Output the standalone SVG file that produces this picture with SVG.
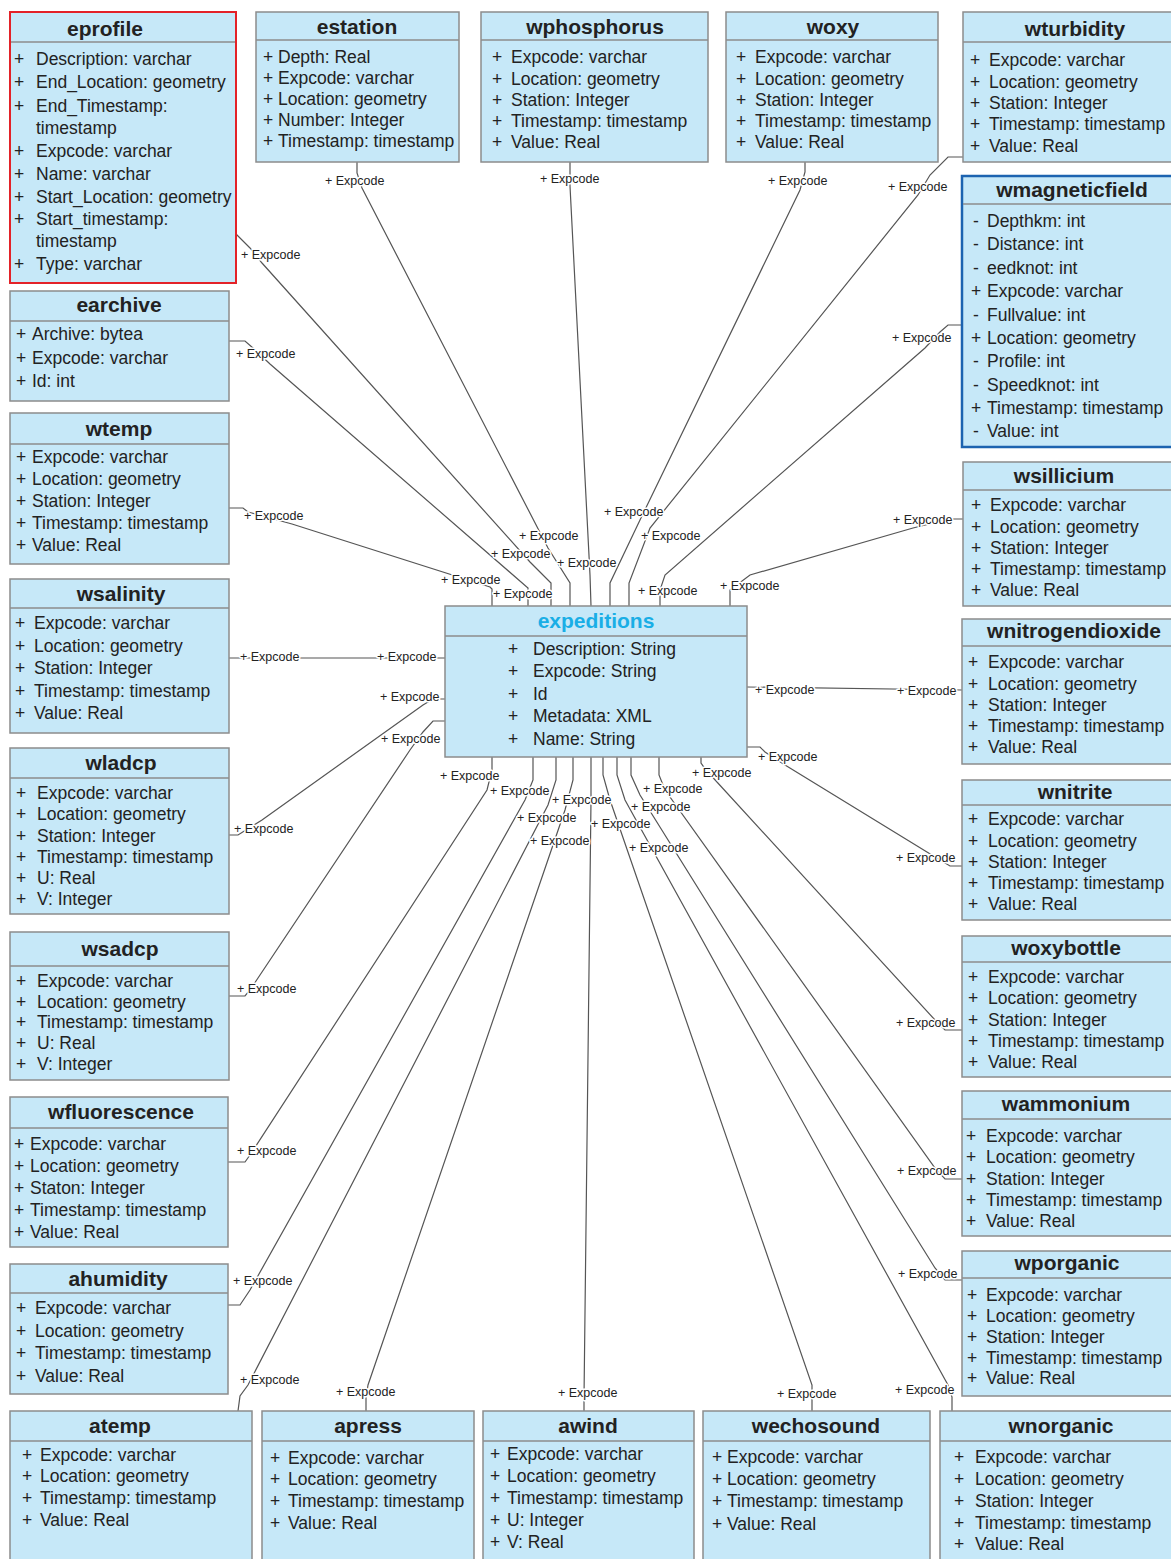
<svg xmlns="http://www.w3.org/2000/svg" width="1171" height="1559" viewBox="0 0 1171 1559">
<style>
.bg{fill:#fff}
.box{fill:#c6e8f8;stroke:#8c8c8c;stroke-width:1.5}
.div{stroke:#8c8c8c;stroke-width:1.5}
.t{font-family:"Liberation Sans",Arial,sans-serif;font-size:21px;font-weight:bold;fill:#222;text-anchor:middle}
.a{font-family:"Liberation Sans",Arial,sans-serif;font-size:17.5px;fill:#222}
.m{font-family:"Liberation Sans",Arial,sans-serif;font-size:17.5px;fill:#222;text-anchor:middle}
.c{fill:none;stroke:#555;stroke-width:1.2}
.l{font-family:"Liberation Sans",Arial,sans-serif;font-size:12.5px;fill:#222;paint-order:stroke;stroke:#fff;stroke-width:3px;stroke-linejoin:round}
</style>
<rect class="bg" x="0" y="0" width="1171" height="1559"/>
<g id="connectors">
<polyline class="c" points="236,234 250,248 262,263 530,562 551,583 551,606"/>
<polyline class="c" points="229,341 245,341 253,348 270,364 528,588 528,606"/>
<polyline class="c" points="229,508 243,508 248,512 292,524 490,587 492,589 492,606"/>
<polyline class="c" points="357,162 357,173 362,188 548,548 570,583 570,606"/>
<polyline class="c" points="570,162 570,172 570,186 590,575 591,606"/>
<polyline class="c" points="805,162 805,172 800,190 640,520 610,583 610,606"/>
<polyline class="c" points="963,157 948,157 930,175 918,195 650,528 629,583 629,606"/>
<polyline class="c" points="962,325 948,325 940,332 925,348 665,575 660,590 660,606"/>
<polyline class="c" points="963,519 950,519 913,528 750,575 730,590 730,606"/>
<polyline class="c" points="229,658 445,658"/>
<polyline class="c" points="229,835 238,835 262,820 423,705 433,699 445,699"/>
<polyline class="c" points="229,996 245,996 250,990 410,750 423,732 433,721 445,721"/>
<polyline class="c" points="747,687 962,690"/>
<polyline class="c" points="747,747 760,747 765,752 785,765 940,860 950,866 962,866"/>
<polyline class="c" points="492,757 492,770 487,790 250,1155 245,1162 228,1162"/>
<polyline class="c" points="533,757 533,780 525,800 250,1290 240,1305 228,1305"/>
<polyline class="c" points="556,757 556,780 548,805 248,1385 240,1396 238,1411"/>
<polyline class="c" points="573,757 573,780 565,810 368,1385 366,1398 366,1411"/>
<polyline class="c" points="591,757 591,800 584,1398 584,1411"/>
<polyline class="c" points="603,757 603,775 610,800 812,1385 812,1411"/>
<polyline class="c" points="617,757 617,775 625,800 948,1385 952,1397 952,1411"/>
<polyline class="c" points="631,757 631,775 640,795 935,1268 945,1280 962,1280"/>
<polyline class="c" points="659,757 659,775 665,790 935,1168 945,1179 962,1179"/>
<polyline class="c" points="701,757 701,763 706,770 935,1020 945,1030 962,1030"/>
<text class="l" x="241" y="259">+ Expcode</text><text class="l" x="491" y="558">+ Expcode</text>
<text class="l" x="236" y="358">+ Expcode</text><text class="l" x="493" y="598">+ Expcode</text>
<text class="l" x="244" y="520">+ Expcode</text><text class="l" x="441" y="584">+ Expcode</text>
<text class="l" x="325" y="185">+ Expcode</text><text class="l" x="519" y="540">+ Expcode</text>
<text class="l" x="540" y="183">+ Expcode</text><text class="l" x="557" y="567">+ Expcode</text>
<text class="l" x="768" y="185">+ Expcode</text><text class="l" x="604" y="516">+ Expcode</text>
<text class="l" x="888" y="191">+ Expcode</text><text class="l" x="641" y="540">+ Expcode</text>
<text class="l" x="892" y="342">+ Expcode</text><text class="l" x="638" y="595">+ Expcode</text>
<text class="l" x="893" y="524">+ Expcode</text><text class="l" x="720" y="590">+ Expcode</text>
<text class="l" x="240" y="661">+ Expcode</text><text class="l" x="377" y="661">+ Expcode</text>
<text class="l" x="234" y="833">+ Expcode</text><text class="l" x="380" y="701">+ Expcode</text>
<text class="l" x="237" y="993">+ Expcode</text><text class="l" x="381" y="743">+ Expcode</text>
<text class="l" x="755" y="694">+ Expcode</text><text class="l" x="897" y="695">+ Expcode</text>
<text class="l" x="758" y="761">+ Expcode</text><text class="l" x="896" y="862">+ Expcode</text>
<text class="l" x="440" y="780">+ Expcode</text><text class="l" x="237" y="1155">+ Expcode</text>
<text class="l" x="490" y="795">+ Expcode</text><text class="l" x="233" y="1285">+ Expcode</text>
<text class="l" x="517" y="822">+ Expcode</text><text class="l" x="240" y="1384">+ Expcode</text>
<text class="l" x="530" y="845">+ Expcode</text><text class="l" x="336" y="1396">+ Expcode</text>
<text class="l" x="552" y="804">+ Expcode</text><text class="l" x="558" y="1397">+ Expcode</text>
<text class="l" x="591" y="828">+ Expcode</text><text class="l" x="777" y="1398">+ Expcode</text>
<text class="l" x="629" y="852">+ Expcode</text><text class="l" x="895" y="1394">+ Expcode</text>
<text class="l" x="631" y="811">+ Expcode</text><text class="l" x="898" y="1278">+ Expcode</text>
<text class="l" x="643" y="793">+ Expcode</text><text class="l" x="897" y="1175">+ Expcode</text>
<text class="l" x="692" y="777">+ Expcode</text><text class="l" x="896" y="1027">+ Expcode</text>
</g>

<g id="eprofile">
<rect x="10" y="12" width="226" height="271" style="fill:#c6e8f8;stroke:#e32228;stroke-width:2"/>
<line class="div" x1="11" y1="42" x2="235" y2="42"/>
<text class="t" x="105" y="36">eprofile</text>
<text class="m" x="19" y="65">+</text><text class="a" x="36" y="65">Description: varchar</text>
<text class="m" x="19" y="88">+</text><text class="a" x="36" y="88">End_Location: geometry</text>
<text class="m" x="19" y="112">+</text><text class="a" x="36" y="112">End_Timestamp:</text>
<text class="a" x="36" y="134">timestamp</text>
<text class="m" x="19" y="157">+</text><text class="a" x="36" y="157">Expcode: varchar</text>
<text class="m" x="19" y="180">+</text><text class="a" x="36" y="180">Name: varchar</text>
<text class="m" x="19" y="203">+</text><text class="a" x="36" y="203">Start_Location: geometry</text>
<text class="m" x="19" y="225">+</text><text class="a" x="36" y="225">Start_timestamp:</text>
<text class="a" x="36" y="247">timestamp</text>
<text class="m" x="19" y="270">+</text><text class="a" x="36" y="270">Type: varchar</text>
</g>

<g id="estation">
<rect class="box" x="256" y="12" width="203" height="150"/>
<line class="div" x1="256" y1="40" x2="459" y2="40"/>
<text class="t" x="357" y="34">estation</text>
<text class="m" x="268" y="63">+</text><text class="a" x="278" y="63">Depth: Real</text>
<text class="m" x="268" y="84">+</text><text class="a" x="278" y="84">Expcode: varchar</text>
<text class="m" x="268" y="105">+</text><text class="a" x="278" y="105">Location: geometry</text>
<text class="m" x="268" y="126">+</text><text class="a" x="278" y="126">Number: Integer</text>
<text class="m" x="268" y="147">+</text><text class="a" x="278" y="147">Timestamp: timestamp</text>
</g>

<g id="wphosphorus">
<rect class="box" x="481" y="12" width="227" height="150"/>
<line class="div" x1="481" y1="40" x2="708" y2="40"/>
<text class="t" x="595" y="34">wphosphorus</text>
<text class="m" x="497" y="63">+</text><text class="a" x="511" y="63">Expcode: varchar</text>
<text class="m" x="497" y="85">+</text><text class="a" x="511" y="85">Location: geometry</text>
<text class="m" x="497" y="106">+</text><text class="a" x="511" y="106">Station: Integer</text>
<text class="m" x="497" y="127">+</text><text class="a" x="511" y="127">Timestamp: timestamp</text>
<text class="m" x="497" y="148">+</text><text class="a" x="511" y="148">Value: Real</text>
</g>

<g id="woxy">
<rect class="box" x="726" y="12" width="212" height="150"/>
<line class="div" x1="726" y1="40" x2="938" y2="40"/>
<text class="t" x="833" y="34">woxy</text>
<text class="m" x="741" y="63">+</text><text class="a" x="755" y="63">Expcode: varchar</text>
<text class="m" x="741" y="85">+</text><text class="a" x="755" y="85">Location: geometry</text>
<text class="m" x="741" y="106">+</text><text class="a" x="755" y="106">Station: Integer</text>
<text class="m" x="741" y="127">+</text><text class="a" x="755" y="127">Timestamp: timestamp</text>
<text class="m" x="741" y="148">+</text><text class="a" x="755" y="148">Value: Real</text>
</g>

<g id="wturbidity">
<rect class="box" x="963" y="12" width="215" height="150"/>
<line class="div" x1="963" y1="42" x2="1178" y2="42"/>
<text class="t" x="1075" y="36">wturbidity</text>
<text class="m" x="975" y="66">+</text><text class="a" x="989" y="66">Expcode: varchar</text>
<text class="m" x="975" y="88">+</text><text class="a" x="989" y="88">Location: geometry</text>
<text class="m" x="975" y="109">+</text><text class="a" x="989" y="109">Station: Integer</text>
<text class="m" x="975" y="130">+</text><text class="a" x="989" y="130">Timestamp: timestamp</text>
<text class="m" x="975" y="152">+</text><text class="a" x="989" y="152">Value: Real</text>
</g>

<g id="wmagneticfield">
<rect x="962" y="176" width="215" height="271" style="fill:#c6e8f8;stroke:#1c63b0;stroke-width:2.5"/>
<line class="div" x1="963" y1="204" x2="1177" y2="204"/>
<text class="t" x="1072" y="197">wmagneticfield</text>
<text class="m" x="976" y="227">-</text><text class="a" x="987" y="227">Depthkm: int</text>
<text class="m" x="976" y="250">-</text><text class="a" x="987" y="250">Distance: int</text>
<text class="m" x="976" y="274">-</text><text class="a" x="987" y="274">eedknot: int</text>
<text class="m" x="976" y="297">+</text><text class="a" x="987" y="297">Expcode: varchar</text>
<text class="m" x="976" y="321">-</text><text class="a" x="987" y="321">Fullvalue: int</text>
<text class="m" x="976" y="344">+</text><text class="a" x="987" y="344">Location: geometry</text>
<text class="m" x="976" y="367">-</text><text class="a" x="987" y="367">Profile: int</text>
<text class="m" x="976" y="391">-</text><text class="a" x="987" y="391">Speedknot: int</text>
<text class="m" x="976" y="414">+</text><text class="a" x="987" y="414">Timestamp: timestamp</text>
<text class="m" x="976" y="437">-</text><text class="a" x="987" y="437">Value: int</text>
</g>

<g id="earchive">
<rect class="box" x="10" y="291" width="219" height="110"/>
<line class="div" x1="10" y1="321" x2="229" y2="321"/>
<text class="t" x="119" y="312">earchive</text>
<text class="m" x="21" y="340">+</text><text class="a" x="32" y="340">Archive: bytea</text>
<text class="m" x="21" y="364">+</text><text class="a" x="32" y="364">Expcode: varchar</text>
<text class="m" x="21" y="387">+</text><text class="a" x="32" y="387">Id: int</text>
</g>

<g id="wtemp">
<rect class="box" x="10" y="413" width="219" height="151"/>
<line class="div" x1="10" y1="444" x2="229" y2="444"/>
<text class="t" x="119" y="436">wtemp</text>
<text class="m" x="21" y="463">+</text><text class="a" x="32" y="463">Expcode: varchar</text>
<text class="m" x="21" y="485">+</text><text class="a" x="32" y="485">Location: geometry</text>
<text class="m" x="21" y="507">+</text><text class="a" x="32" y="507">Station: Integer</text>
<text class="m" x="21" y="529">+</text><text class="a" x="32" y="529">Timestamp: timestamp</text>
<text class="m" x="21" y="551">+</text><text class="a" x="32" y="551">Value: Real</text>
</g>

<g id="wsalinity">
<rect class="box" x="10" y="579" width="219" height="154"/>
<line class="div" x1="10" y1="608" x2="229" y2="608"/>
<text class="t" x="121" y="601">wsalinity</text>
<text class="m" x="20" y="629">+</text><text class="a" x="34" y="629">Expcode: varchar</text>
<text class="m" x="20" y="652">+</text><text class="a" x="34" y="652">Location: geometry</text>
<text class="m" x="20" y="674">+</text><text class="a" x="34" y="674">Station: Integer</text>
<text class="m" x="20" y="697">+</text><text class="a" x="34" y="697">Timestamp: timestamp</text>
<text class="m" x="20" y="719">+</text><text class="a" x="34" y="719">Value: Real</text>
</g>

<g id="wladcp">
<rect class="box" x="10" y="748" width="219" height="166"/>
<line class="div" x1="10" y1="778" x2="229" y2="778"/>
<text class="t" x="121" y="770">wladcp</text>
<text class="m" x="21" y="799">+</text><text class="a" x="37" y="799">Expcode: varchar</text>
<text class="m" x="21" y="820">+</text><text class="a" x="37" y="820">Location: geometry</text>
<text class="m" x="21" y="842">+</text><text class="a" x="37" y="842">Station: Integer</text>
<text class="m" x="21" y="863">+</text><text class="a" x="37" y="863">Timestamp: timestamp</text>
<text class="m" x="21" y="884">+</text><text class="a" x="37" y="884">U: Real</text>
<text class="m" x="21" y="905">+</text><text class="a" x="37" y="905">V: Integer</text>
</g>

<g id="wsadcp">
<rect class="box" x="10" y="932" width="219" height="148"/>
<line class="div" x1="10" y1="966" x2="229" y2="966"/>
<text class="t" x="120" y="956">wsadcp</text>
<text class="m" x="21" y="987">+</text><text class="a" x="37" y="987">Expcode: varchar</text>
<text class="m" x="21" y="1008">+</text><text class="a" x="37" y="1008">Location: geometry</text>
<text class="m" x="21" y="1028">+</text><text class="a" x="37" y="1028">Timestamp: timestamp</text>
<text class="m" x="21" y="1049">+</text><text class="a" x="37" y="1049">U: Real</text>
<text class="m" x="21" y="1070">+</text><text class="a" x="37" y="1070">V: Integer</text>
</g>

<g id="wfluorescence">
<rect class="box" x="10" y="1097" width="218" height="150"/>
<line class="div" x1="10" y1="1128" x2="228" y2="1128"/>
<text class="t" x="121" y="1119">wfluorescence</text>
<text class="m" x="19" y="1150">+</text><text class="a" x="30" y="1150">Expcode: varchar</text>
<text class="m" x="19" y="1172">+</text><text class="a" x="30" y="1172">Location: geometry</text>
<text class="m" x="19" y="1194">+</text><text class="a" x="30" y="1194">Staton: Integer</text>
<text class="m" x="19" y="1216">+</text><text class="a" x="30" y="1216">Timestamp: timestamp</text>
<text class="m" x="19" y="1238">+</text><text class="a" x="30" y="1238">Value: Real</text>
</g>

<g id="ahumidity">
<rect class="box" x="10" y="1264" width="218" height="130"/>
<line class="div" x1="10" y1="1293" x2="228" y2="1293"/>
<text class="t" x="118" y="1286">ahumidity</text>
<text class="m" x="21" y="1314">+</text><text class="a" x="35" y="1314">Expcode: varchar</text>
<text class="m" x="21" y="1337">+</text><text class="a" x="35" y="1337">Location: geometry</text>
<text class="m" x="21" y="1359">+</text><text class="a" x="35" y="1359">Timestamp: timestamp</text>
<text class="m" x="21" y="1382">+</text><text class="a" x="35" y="1382">Value: Real</text>
</g>

<g id="atemp">
<rect class="box" x="10" y="1411" width="242" height="152"/>
<line class="div" x1="10" y1="1441" x2="252" y2="1441"/>
<text class="t" x="120" y="1433">atemp</text>
<text class="m" x="27" y="1461">+</text><text class="a" x="40" y="1461">Expcode: varchar</text>
<text class="m" x="27" y="1482">+</text><text class="a" x="40" y="1482">Location: geometry</text>
<text class="m" x="27" y="1504">+</text><text class="a" x="40" y="1504">Timestamp: timestamp</text>
<text class="m" x="27" y="1526">+</text><text class="a" x="40" y="1526">Value: Real</text>
</g>

<g id="apress">
<rect class="box" x="262" y="1411" width="212" height="152"/>
<line class="div" x1="262" y1="1441" x2="474" y2="1441"/>
<text class="t" x="368" y="1433">apress</text>
<text class="m" x="275" y="1464">+</text><text class="a" x="288" y="1464">Expcode: varchar</text>
<text class="m" x="275" y="1485">+</text><text class="a" x="288" y="1485">Location: geometry</text>
<text class="m" x="275" y="1507">+</text><text class="a" x="288" y="1507">Timestamp: timestamp</text>
<text class="m" x="275" y="1529">+</text><text class="a" x="288" y="1529">Value: Real</text>
</g>

<g id="awind">
<rect class="box" x="483" y="1411" width="211" height="152"/>
<line class="div" x1="483" y1="1441" x2="694" y2="1441"/>
<text class="t" x="588" y="1433">awind</text>
<text class="m" x="495" y="1460">+</text><text class="a" x="507" y="1460">Expcode: varchar</text>
<text class="m" x="495" y="1482">+</text><text class="a" x="507" y="1482">Location: geometry</text>
<text class="m" x="495" y="1504">+</text><text class="a" x="507" y="1504">Timestamp: timestamp</text>
<text class="m" x="495" y="1526">+</text><text class="a" x="507" y="1526">U: Integer</text>
<text class="m" x="495" y="1548">+</text><text class="a" x="507" y="1548">V: Real</text>
</g>

<g id="wechosound">
<rect class="box" x="703" y="1411" width="227" height="152"/>
<line class="div" x1="703" y1="1441" x2="930" y2="1441"/>
<text class="t" x="816" y="1433">wechosound</text>
<text class="m" x="717" y="1463">+</text><text class="a" x="727" y="1463">Expcode: varchar</text>
<text class="m" x="717" y="1485">+</text><text class="a" x="727" y="1485">Location: geometry</text>
<text class="m" x="717" y="1507">+</text><text class="a" x="727" y="1507">Timestamp: timestamp</text>
<text class="m" x="717" y="1530">+</text><text class="a" x="727" y="1530">Value: Real</text>
</g>

<g id="wnorganic">
<rect class="box" x="940" y="1411" width="240" height="152"/>
<line class="div" x1="940" y1="1441" x2="1180" y2="1441"/>
<text class="t" x="1061" y="1433">wnorganic</text>
<text class="m" x="959" y="1463">+</text><text class="a" x="975" y="1463">Expcode: varchar</text>
<text class="m" x="959" y="1485">+</text><text class="a" x="975" y="1485">Location: geometry</text>
<text class="m" x="959" y="1507">+</text><text class="a" x="975" y="1507">Station: Integer</text>
<text class="m" x="959" y="1529">+</text><text class="a" x="975" y="1529">Timestamp: timestamp</text>
<text class="m" x="959" y="1550">+</text><text class="a" x="975" y="1550">Value: Real</text>
</g>

<g id="wsillicium">
<rect class="box" x="963" y="462" width="215" height="144"/>
<line class="div" x1="963" y1="490" x2="1178" y2="490"/>
<text class="t" x="1064" y="483">wsillicium</text>
<text class="m" x="976" y="511">+</text><text class="a" x="990" y="511">Expcode: varchar</text>
<text class="m" x="976" y="533">+</text><text class="a" x="990" y="533">Location: geometry</text>
<text class="m" x="976" y="554">+</text><text class="a" x="990" y="554">Station: Integer</text>
<text class="m" x="976" y="575">+</text><text class="a" x="990" y="575">Timestamp: timestamp</text>
<text class="m" x="976" y="596">+</text><text class="a" x="990" y="596">Value: Real</text>
</g>

<g id="wnitrogendioxide">
<rect class="box" x="962" y="619" width="215" height="145"/>
<line class="div" x1="962" y1="646" x2="1177" y2="646"/>
<text class="t" x="1074" y="638">wnitrogendioxide</text>
<text class="m" x="973" y="668">+</text><text class="a" x="988" y="668">Expcode: varchar</text>
<text class="m" x="973" y="690">+</text><text class="a" x="988" y="690">Location: geometry</text>
<text class="m" x="973" y="711">+</text><text class="a" x="988" y="711">Station: Integer</text>
<text class="m" x="973" y="732">+</text><text class="a" x="988" y="732">Timestamp: timestamp</text>
<text class="m" x="973" y="753">+</text><text class="a" x="988" y="753">Value: Real</text>
</g>

<g id="wnitrite">
<rect class="box" x="962" y="780" width="215" height="140"/>
<line class="div" x1="962" y1="805" x2="1177" y2="805"/>
<text class="t" x="1075" y="799">wnitrite</text>
<text class="m" x="973" y="825">+</text><text class="a" x="988" y="825">Expcode: varchar</text>
<text class="m" x="973" y="847">+</text><text class="a" x="988" y="847">Location: geometry</text>
<text class="m" x="973" y="868">+</text><text class="a" x="988" y="868">Station: Integer</text>
<text class="m" x="973" y="889">+</text><text class="a" x="988" y="889">Timestamp: timestamp</text>
<text class="m" x="973" y="910">+</text><text class="a" x="988" y="910">Value: Real</text>
</g>

<g id="woxybottle">
<rect class="box" x="962" y="936" width="215" height="141"/>
<line class="div" x1="962" y1="962" x2="1177" y2="962"/>
<text class="t" x="1066" y="955">woxybottle</text>
<text class="m" x="973" y="983">+</text><text class="a" x="988" y="983">Expcode: varchar</text>
<text class="m" x="973" y="1004">+</text><text class="a" x="988" y="1004">Location: geometry</text>
<text class="m" x="973" y="1026">+</text><text class="a" x="988" y="1026">Station: Integer</text>
<text class="m" x="973" y="1047">+</text><text class="a" x="988" y="1047">Timestamp: timestamp</text>
<text class="m" x="973" y="1068">+</text><text class="a" x="988" y="1068">Value: Real</text>
</g>

<g id="wammonium">
<rect class="box" x="962" y="1091" width="215" height="145"/>
<line class="div" x1="962" y1="1119" x2="1177" y2="1119"/>
<text class="t" x="1066" y="1111">wammonium</text>
<text class="m" x="971" y="1142">+</text><text class="a" x="986" y="1142">Expcode: varchar</text>
<text class="m" x="971" y="1163">+</text><text class="a" x="986" y="1163">Location: geometry</text>
<text class="m" x="971" y="1185">+</text><text class="a" x="986" y="1185">Station: Integer</text>
<text class="m" x="971" y="1206">+</text><text class="a" x="986" y="1206">Timestamp: timestamp</text>
<text class="m" x="971" y="1227">+</text><text class="a" x="986" y="1227">Value: Real</text>
</g>

<g id="wporganic">
<rect class="box" x="962" y="1251" width="215" height="145"/>
<line class="div" x1="962" y1="1278" x2="1177" y2="1278"/>
<text class="t" x="1067" y="1270">wporganic</text>
<text class="m" x="972" y="1301">+</text><text class="a" x="986" y="1301">Expcode: varchar</text>
<text class="m" x="972" y="1322">+</text><text class="a" x="986" y="1322">Location: geometry</text>
<text class="m" x="972" y="1343">+</text><text class="a" x="986" y="1343">Station: Integer</text>
<text class="m" x="972" y="1364">+</text><text class="a" x="986" y="1364">Timestamp: timestamp</text>
<text class="m" x="972" y="1384">+</text><text class="a" x="986" y="1384">Value: Real</text>
</g>

<g id="expeditions">
<rect class="box" x="445" y="606" width="302" height="151"/>
<line class="div" x1="445" y1="636" x2="747" y2="636"/>
<text class="t" x="596" y="628" style="fill:#19aee6">expeditions</text>
<text class="m" x="513" y="655">+</text><text class="a" x="533" y="655">Description: String</text>
<text class="m" x="513" y="677">+</text><text class="a" x="533" y="677">Expcode: String</text>
<text class="m" x="513" y="700">+</text><text class="a" x="533" y="700">Id</text>
<text class="m" x="513" y="722">+</text><text class="a" x="533" y="722">Metadata: XML</text>
<text class="m" x="513" y="745">+</text><text class="a" x="533" y="745">Name: String</text>
</g>
</svg>
